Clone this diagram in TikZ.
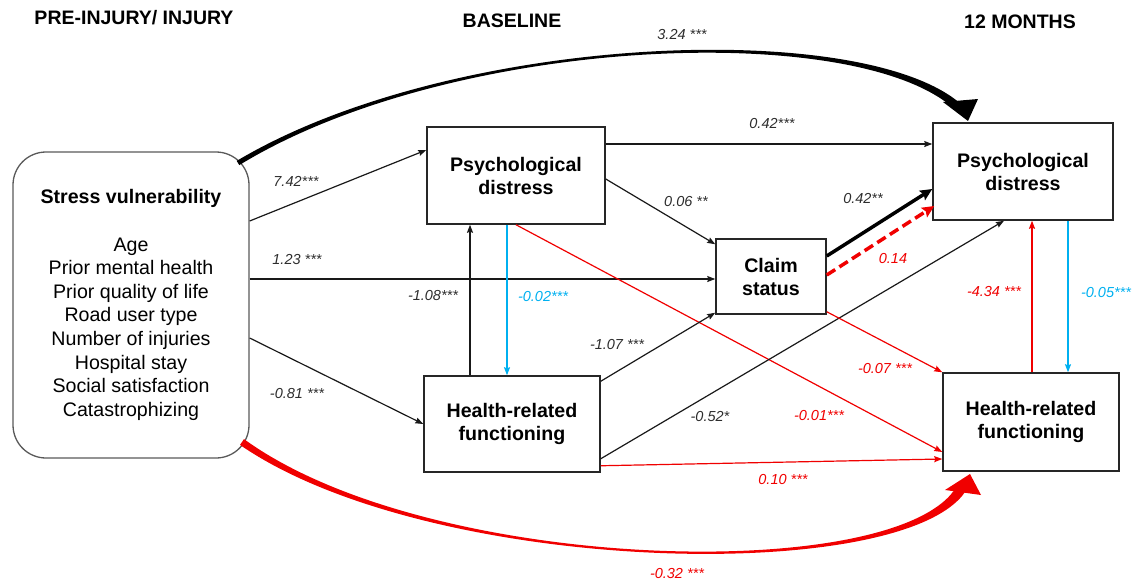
\documentclass[tikz,border=0pt]{standalone}
\usepackage{fontspec}
\setmainfont{Liberation Sans}
\usetikzlibrary{arrows.meta,calc}
\definecolor{myred}{RGB}{240,0,0}
\definecolor{myblue}{RGB}{0,176,240}
\definecolor{lblk}{RGB}{45,45,45}
\begin{document}
\begin{tikzpicture}[x=1pt,y=-1pt,
  box/.style={draw=black!85,line width=1.5pt,inner sep=0pt,align=center,
    font=\fontsize{19.6pt}{23pt}\selectfont\bfseries},
  conn/.style={line width=1.2pt,-{Stealth[length=8pt,width=6pt,inset=1pt]}},
  blk/.style={conn,draw=black!90},
  rd/.style={conn,draw=myred},
  bl/.style={conn,draw=myblue},
  thickblk/.style={line width=3.5pt,draw=black,-{Stealth[length=12pt,width=11pt,inset=2pt]}},
  thickrd/.style={line width=3.5pt,draw=myred,dash pattern=on 10pt off 5pt,-{Stealth[length=12pt,width=11pt,inset=2pt]}},
  lab/.style={font=\fontsize{14.5pt}{17pt}\selectfont\itshape,inner sep=0pt,text=lblk},
  hdr/.style={font=\fontsize{19.5pt}{23pt}\selectfont\bfseries,inner sep=0pt}]
\useasboundingbox (0,0) rectangle (1135,581);

% headers
\node[hdr] (h1) at (134,18) {PRE-INJURY/ INJURY};
\node[hdr] (h2) at (512,21) {BASELINE};
\node[hdr] (h3) at (1020,22) {12 MONTHS};

% boxes
\node[box,rounded corners=33pt,draw=black!65,line width=1.3pt,
  minimum width=236pt,minimum height=306pt,
  font=\fontsize{19.6pt}{23.6pt}\selectfont] (sv) at (131,305)
  {{\bfseries Stress vulnerability}\\[23.6pt]Age\\Prior mental health\\Prior quality of life\\Road user type\\Number of injuries\\Hospital stay\\Social satisfaction\\Catastrophizing};
\node[box,minimum width=178pt,minimum height=97pt] (pd1) at (516,175.5) {Psychological\\distress};
\node[box,minimum width=110pt,minimum height=75pt] (cs) at (771,276.5) {Claim\\status};
\node[box,minimum width=176pt,minimum height=96pt] (hf1) at (512,424) {Health-related\\functioning};
\node[box,minimum width=180pt,minimum height=97pt] (pd2) at (1023,171.5) {Psychological\\distress};
\node[box,minimum width=176pt,minimum height=98pt] (hf2) at (1031,422) {Health-related\\functioning};

% big tapered curved arrows
\fill[black] (236.7,160.9) .. controls (451.5,33.1) and (858.8,18.0) .. (959.6,102.9)
  -- (954.4,109.1) .. controls (857.2,20.0) and (452.5,34.9) .. (239.3,165.1) -- cycle;
\fill[black] (943,102) -- (968,121) -- (978,99) -- cycle;
\fill[myred] (240,444.9) .. controls (429.6,575.6) and (900.8,585.6) .. (965.2,491.8)
  -- (956.8,486.3) .. controls (899.2,584.5) and (430.4,574.4) .. (244,439.1) -- cycle;
\fill[myred] (945,490) -- (970,474) -- (981,495) -- cycle;

% connectors
\draw[blk] ($(sv.east)+(0,-84)$) -- ($(pd1.west)+(0,-25.5)$);
\draw[blk] ($(sv.east)+(0,-26)$) -- ($(cs.west)+(0,2.5)$);
\draw[blk] ($(sv.east)+(0,33)$) -- (hf1.west);
\draw[blk] ($(hf1.north)+(-42,0)$) -- ($(pd1.south)+(-46,0)$);
\draw[bl] ($(pd1.south)+(-9,0)$) -- ($(hf1.north)+(-5,0)$);
\draw[blk] ($(pd1.east)+(0,3.5)$) -- ($(cs.north west)+(0,6)$);
\draw[blk] ($(pd1.east)+(0,-31.5)$) -- ($(pd2.west)+(0,-27.5)$);
\draw[rd] (pd1.south) -- ($(hf2.west)+(0,30)$);
\draw[blk] ($(hf1.north east)+(0,6)$) -- ($(cs.south west)+(0,-2)$);
\draw[blk] ($(hf1.south east)+(0,-14)$) -- ($(pd2.south)+(-19,0)$);
\draw[rd] ($(hf1.south east)+(0,-7)$) -- ($(hf2.west)+(0,37)$);
\draw[thickblk] ($(cs.east)+(0,-20.5)$) -- ($(pd2.west)+(0,17.5)$);
\draw[thickrd] ($(cs.east)+(0,-1.5)$) -- ($(pd2.west)+(2,34.5)$);
\draw[rd] ($(cs.south east)+(0,-3)$) -- (hf2.north west);
\draw[rd] ($(hf2.north)+(1,0)$) -- ($(pd2.south)+(9,0)$);
\draw[bl] ($(pd2.south)+(45,0)$) -- ($(hf2.north)+(37,0)$);

% labels
\node[lab] (l1) at (682,35) {3.24 ***};
\node[lab] (l2) at (772,124) {0.42***};
\node[lab] (l3) at (296,181) {7.42***};
\node[lab] (l4) at (686,202) {0.06 **};
\node[lab] (l5) at (863,199) {0.42**};
\node[lab] (l6) at (297,260) {1.23 ***};
\node[lab,text=myred] (l7) at (893,259) {0.14};
\node[lab] (l8) at (433,296) {-1.08***};
\node[lab,text=myblue] (l9) at (543,297) {-0.02***};
\node[lab,text=myred] (l10) at (994,292) {-4.34 ***};
\node[lab,text=myblue] (l11) at (1106,293) {-0.05***};
\node[lab] (l12) at (617,345) {-1.07 ***};
\node[lab,text=myred] (l13) at (885,369) {-0.07 ***};
\node[lab] (l14) at (297,394) {-0.81 ***};
\node[lab] (l15) at (710,417) {-0.52*};
\node[lab,text=myred] (l16) at (819,416) {-0.01***};
\node[lab,text=myred] (l17) at (783,480) {0.10 ***};
\node[lab,text=myred] (l18) at (677,573) {-0.32 ***};
\end{tikzpicture}
\end{document}
